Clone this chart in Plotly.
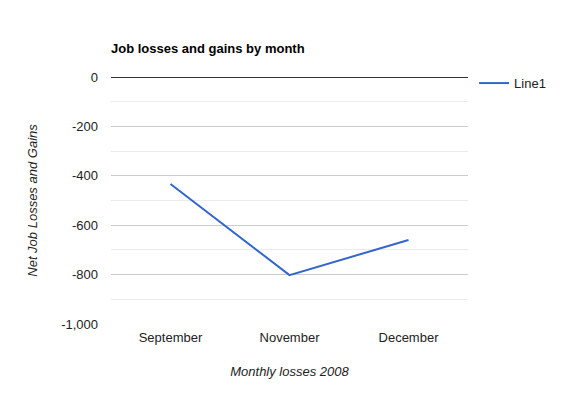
import plotly.graph_objects as go

months = ["September", "November", "December"]
net_jobs = [-433, -802, -660]
y_ticks = [0, -200, -400, -600, -800, -1000]
y_tick_labels = ["0", "-200", "-400", "-600", "-800", "-1,000"]

fig = go.Figure()
fig.add_trace(go.Scatter(
    x=months, y=net_jobs, mode="lines", name="Line1",
    line=dict(color="#3366cc", width=2),
))

fig.update_layout(
    width=580, height=400,
    margin=dict(l=111, r=112, t=77, b=76),
    paper_bgcolor="white", plot_bgcolor="white",
    font=dict(family="Liberation Sans, Arial, sans-serif", size=13, color="#222222"),
    title=dict(text="<b>Job losses and gains by month</b>", x=111/580, xanchor="left",
               y=1 - 48/400, yanchor="middle", font=dict(size=13, color="#000000")),
    showlegend=True,
    legend=dict(x=1.017, y=1.036, xanchor="left", yanchor="top", font=dict(size=13, color="#222222"),
                bgcolor="rgba(0,0,0,0)", itemwidth=30),
    xaxis=dict(
        range=[-0.5, 2.5], showgrid=False, zeroline=False, showline=False, ticks="",
        ticklabelstandoff=4,
        title=dict(text="<i>Monthly losses 2008</i>", standoff=22, font=dict(size=13, color="#222222")),
    ),
    yaxis=dict(
        range=[-1000, 0], tickvals=y_ticks, ticktext=y_tick_labels,
        showgrid=True, gridcolor="#cccccc", gridwidth=1,
        minor=dict(dtick=100, showgrid=True, gridcolor="#ebebeb", gridwidth=1),
        zeroline=True, zerolinecolor="#333333", zerolinewidth=1,
        showline=False, ticks="", ticklabelstandoff=12,
        title=dict(text="<i>Net Job Losses and Gains</i>", standoff=20, font=dict(size=13, color="#222222")),
    ),
)

fig.write_html("out.html")
